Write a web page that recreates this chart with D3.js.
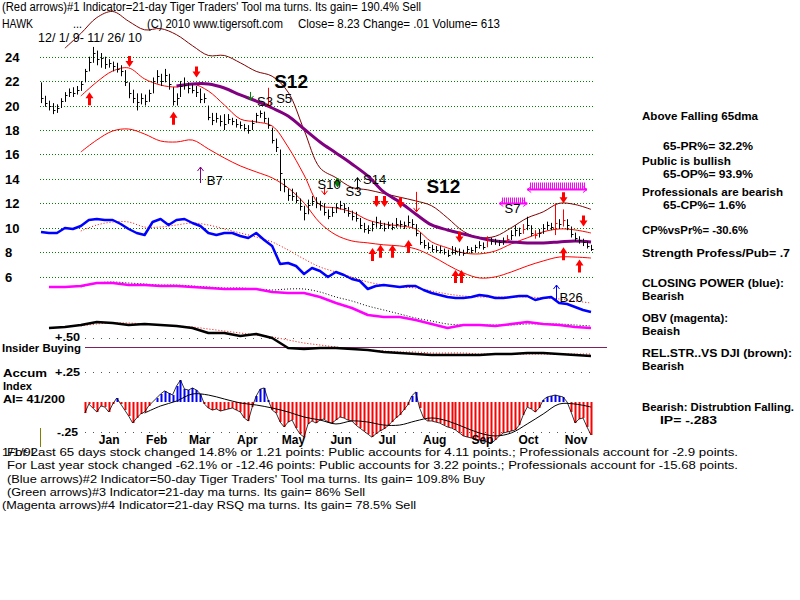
<!DOCTYPE html>
<html><head><meta charset="utf-8">
<script src="https://cdn.jsdelivr.net/npm/d3@7"></script>
<style>body{margin:0;background:#fff}svg{display:block}text{font-family:"Liberation Sans",Arial,sans-serif;fill:#000}</style>
</head><body><svg id="c" width="800" height="600"></svg>
<script>
// ---------------- DATA ----------------
const closes=[20.6,20.2,20.0,19.6,19.8,20.4,20.9,21.1,21.0,21.3, 21.8,22.8,23.6,24.3,23.8,23.9,23.4,23.5,23.2,23.0, 22.8,21.9,21.0,20.6,20.3,20.6,20.4,21.0,22.0,22.4, 22.0,22.5,21.8,20.4,20.6,21.6,21.7,21.4,21.3,21.1, 20.5,20.6,19.1,18.8,19.0,18.7,18.5,18.9,18.7,18.5, 18.4,18.2,18.0,18.6,19.2,19.4,19.0,18.4,17.2,16.6, 14.5,13.4,12.7,12.6,12.3,11.8,11.2,11.9,12.2,12.0, 11.9,11.3,11.0,11.3,11.7,11.9,11.6,11.2,11.0,10.8, 10.2,9.9,9.8,10.3,10.5,10.2,10.0,10.2,10.1,10.3, 10.3,10.2,10.5,10.3,9.6,8.8,8.6,8.4,8.3,8.2, 8.2,8.0,7.8,8.0,8.1,8.0,7.9,8.3,8.2,8.4, 8.6,8.4,9.0,8.9,8.9,8.8,8.9,9.1,9.4,9.8, 9.6,9.9,10.2,9.6,9.4,9.6,10.0,10.2,10.1,10.4, 10.3,10.6,10.2,9.5,9.2,9.0,8.8,8.5,8.23];
const highs=[21.9,20.8,20.4,20.2,20.1,20.6,21.1,21.4,21.5,21.6, 22.0,23.0,24.0,24.8,24.5,24.3,24.0,23.8,23.6,23.5, 23.3,22.9,21.9,21.3,21.0,21.0,20.9,21.3,22.3,22.9, 22.6,23.0,22.6,21.5,21.0,22.0,22.3,21.9,21.7,21.6, 21.4,21.0,20.0,19.4,19.4,19.2,19.3,19.3,19.0,18.9, 18.7,18.5,18.4,18.8,19.4,19.6,19.5,19.0,18.2,17.3, 16.4,14.0,13.2,13.2,12.9,12.4,11.8,12.3,12.6,12.5, 12.2,12.0,11.5,11.7,12.0,12.2,12.0,11.7,11.4,11.3, 10.8,10.4,10.2,10.5,10.9,10.6,10.4,10.5,10.4,10.8, 10.6,10.5,11.0,10.7,10.3,9.6,9.0,8.8,8.6,8.5, 8.5,8.3,8.2,8.5,8.4,8.3,8.2,8.5,8.4,8.6, 8.9,8.8,9.3,9.2,9.1,9.0,9.2,9.4,9.8,10.2, 10.0,10.3,10.9,10.2,9.8,9.9,10.3,10.5,10.4,12.0, 10.7,11.5,10.7,10.1,9.6,9.3,9.1,8.9,8.6];
const lows=[20.2,19.9,19.6,19.3,19.4,19.8,20.3,20.7,20.7,20.9, 21.2,21.9,22.8,23.5,23.3,23.1,23.0,23.1,22.8,22.7, 22.4,21.6,20.6,20.2,19.6,20.1,20.0,20.3,21.0,21.8, 21.6,21.9,21.3,20.0,20.0,20.7,21.3,21.0,21.0,20.7, 20.2,20.2,18.8,18.4,18.6,18.3,18.0,18.5,18.4,18.2, 18.1,17.9,17.7,18.0,18.6,19.0,18.6,18.1,16.9,16.2, 13.0,12.9,12.2,12.2,12.0,11.4,10.6,11.1,11.8,11.6, 11.4,11.0,10.7,10.9,11.2,11.5,11.2,10.9,10.6,10.5, 9.9,9.6,9.5,9.7,10.0,9.9,9.7,9.9,9.8,10.0, 10.0,9.9,10.1,10.0,9.3,8.6,8.3,8.2,8.0,8.0, 7.9,7.8,7.6,7.8,7.8,7.7,7.7,7.9,7.9,8.0, 8.3,8.2,8.4,8.6,8.6,8.5,8.6,8.8,9.0,9.3, 9.3,9.5,9.8,9.3,9.1,9.2,9.5,9.8,9.8,9.4, 9.9,10.1,9.8,9.2,8.9,8.7,8.5,8.3,8.1];
const redBars=[112,117,121,124,129,131];
const priceTicks=[24,22,20,18,16,14,12,10,8,6];
const months=["Jan","Feb","Mar","Apr","May","Jun","Jul","Aug","Sep","Oct","Nov"];

// moving averages / bands (price units), sampled every 4 bars from start index
const upperBand=[24.7,25.9,27.2,27.7,26.9,26.2,26.3,25.8,24.9,24.1,24.1,23.5,22.8,22.4,21.1,18.0,14.9,14.1,13.3,13.1,12.8,12.5,12.2,11.8,10.8,9.7,9.2,9.3,10.0,10.8,11.3,12.0,11.9,11.5];
const ma21=[20.78,21.93,22.83,23.08,22.18,21.68,21.52,21.77,21.19,20.05,18.9,18.66,18.33,16.61,14.32,11.86,11.62,11.29,10.64,10.31,10.15,9.9,8.84,8.35,7.94,7.86,8.1,8.68,9.17,9.66,9.9,9.82,9.57];
const lowerBand=[16.2,17.18,17.92,18.08,17.67,17.1,17.02,17.18,16.45,15.71,15.06,14.57,14.08,13.26,12.03,10.4,9.41,8.92,8.76,8.6,8.51,8.27,7.7,6.96,6.3,5.89,5.98,6.38,6.87,7.28,7.6,7.6,7.52];
const ma65=[21.6,21.77,21.77,21.44,20.87,20.37,19.8,19.15,18.08,17.02,16.12,15.22,14.24,12.93,12.11,11.13,10.23,9.82,9.49,9.17,8.92,8.84,8.76,8.76,8.84,8.92,8.84];

// indicators (own units)
const closingPower=[98,97,97,102,101,104,110,111,110,110, 106,101,97,95,108,111,105,110,111,107, 104,97,95,97,97,94,92,97,90,84, 66,67,64,56,62,59,53,58,55,51, 49,41,44,45,44,43,44,44,40,37, 35,33,32,32,33,35,34,32,32,33, 34,34,30,32,33,27,26,23,20,18];
const closingPowerMa=[99,105,108,108,103,103,105,107,105,101,97,93,88,80,71,63,58,53,48,45,43,42,39,36,34,33,33,33,33,32,31,29,27];
const obv=[53,53,54,57,57,55,55,54,54,53,52,51,51,51,48,47,47,43,37,32,25,23,23,20,16,12,15,15,14,16,18,16,15,13,12];
const obvMa=[53,57,58,57,56,55,55,54,53,52,52,51,50,51,51,48,43,39,34,30,26,22,19,16,15,15,15,15,16,16,16,15,14];
const relStr=[32,33,35,38,37,35,36,35,34,32,27,27,24,26,22,12,11,12,12,11,10,8,7,6,5,5,5,5,6,6,7,7,6,5,4];
const relStrMa=[34,36,37,37,36,35,34,33,31,29,27,25,23,20,17,15,13,11,10,9,8,8,7,7,7,6,6,6,6,6,6,6,6];
const accum=[-0.092,-0.017,-0.05,-0.083,-0.033,-0.042,-0.083,-0.017,0.033,-0.017, -0.067,-0.117,-0.175,-0.133,-0.1,-0.083,-0.033,0,0.033,0.067, 0.092,0.075,0.058,0.133,0.183,0.108,0.1,0.117,0.1,0.067, -0.017,-0.05,-0.067,-0.058,-0.075,-0.067,-0.058,-0.05,-0.067,-0.083, -0.133,-0.158,-0.042,0.05,0.108,0.117,0.017,-0.067,-0.092,-0.167, -0.208,-0.167,-0.15,-0.217,-0.267,-0.292,-0.183,-0.158,-0.175,-0.15, -0.142,-0.167,-0.175,-0.15,-0.125,-0.133,-0.15,-0.158,-0.192,-0.217, -0.242,-0.267,-0.292,-0.267,-0.242,-0.225,-0.2,-0.167,-0.133,-0.108, -0.067,-0.025,0.05,0.083,-0.05,-0.133,-0.158,-0.158,-0.167,-0.175, -0.192,-0.208,-0.217,-0.233,-0.258,-0.283,-0.292,-0.3,-0.317,-0.317, -0.325,-0.333,-0.342,-0.317,-0.283,-0.258,-0.25,-0.242,-0.233,-0.192, -0.108,-0.042,-0.058,-0.083,-0.05,0.017,0.042,0.05,0.058,0.05, 0.042,0,-0.083,-0.175,-0.142,-0.133,-0.208,-0.275];
const accumMa=[-0.092,-0.033,0.008,0.067,0.058,0.025,-0.008,-0.025,-0.05,-0.083,-0.125,-0.15,-0.183,-0.158,-0.167,-0.192,-0.192,-0.158,-0.133,-0.158,-0.208,-0.258,-0.283,-0.258,-0.183,-0.1,-0.017,-0.017,-0.042];

// signals: [bar index, tip price]
const redUp=[[12,21.1],[33,19.5],[83,8.35],[85,8.6],[88,8.6],[92,9.0],[104,6.55],[105.5,6.55],[131,8.4],[135,7.4]];
const redDown=[[22,23.15],[39,22.3],[84,11.7],[86,11.7],[90,11.6],[105,8.8],[131,12.0],[136,10.1]];
const thinRedDown=[[57,19.9,19],[94,11.3,20],[71,12.7,8]];
const labels=[["S12",58.5,21.45,19],["S5",59,20.2,13],["S3",54.2,19.95,13],["B7",41.6,13.5,13],["S10",69.4,13.15,13],["S3",76.4,12.6,13],["S14",80.8,13.6,13],["S12",96.7,12.85,19],["S7",116.3,11.2,13]];
const magentaClusters=[[115,122,12.0,6],[122,137,13.15,7]];

// ---------------- CHART ----------------
const svg=d3.select("#c");
const x=d3.scaleLinear().domain([0,closes.length-1]).range([41,591]);
const y=d3.scaleLinear().domain([6,24]).range([276.6,56.7]);
const cpY=d3.scaleLinear().domain([0,120]).range([330,210]);
const obvY=d3.scaleLinear().domain([0,80]).range([340,260]);
const rsY=d3.scaleLinear().domain([0,40]).range([360,320]);
const aiY=d3.scaleLinear().domain([-0.25,0.25]).range([432,372]);
const tx=d3.scaleTime().domain([new Date(2009,11,1),new Date(2010,10,26)]).range([40,593]);
const px=i=>Math.round(x(i))+0.5;

function pts(vals,start,step,ys){return vals.map((v,i)=>[x(start+i*step),ys(v)]);}
function path(p,stroke,w,dash,curve){
  svg.append("path").attr("d",d3.line().curve(curve||d3.curveLinear)(p)).attr("fill","none")
   .attr("stroke",stroke).attr("stroke-width",w).attr("stroke-dasharray",dash||null).attr("stroke-linejoin","round");
}
function txt(s,xx,yy,o){o=o||{};
  const t=svg.append("text").attr("x",xx).attr("y",yy).text(s)
   .attr("font-size",o.size||12).attr("font-weight",o.bold?"bold":"normal");
  if(o.len){t.attr("textLength",o.len).attr("lengthAdjust","spacingAndGlyphs");}
  if(o.anchor)t.attr("text-anchor",o.anchor);
  if(o.fill)t.style("fill",o.fill);
  return t;}

// grid
priceTicks.forEach(v=>{
  svg.append("line").attr("x1",40).attr("x2",593).attr("y1",Math.round(y(v))+0.5).attr("y2",Math.round(y(v))+0.5)
   .attr("stroke","#008000").attr("stroke-dasharray","1,2");
  txt(String(v),5,y(v)+5,{bold:true,size:13});
});
// indicator dotted ref lines
[[338,"+.50",341],[372,"+.25",376],[432,"-.25",436]].forEach(([yy,l,by])=>{
  svg.append("line").attr("x1",85).attr("x2",593).attr("y1",yy+0.5).attr("y2",yy+0.5)
   .attr("stroke","#555").attr("stroke-dasharray","1,7");
  txt(l,l==="-.25"?57:55,by,{bold:true,size:11,len:l==="-.25"?21:25});
});
// insider buying line
svg.append("line").attr("x1",85).attr("x2",607).attr("y1",347.5).attr("y2",347.5).attr("stroke","#802060").attr("stroke-width",1.2);

// bands
const cur=d3.curveCatmullRom;
path(pts(upperBand,6,4,y),"#800000",1,null,cur);
path(pts(lowerBand,10,4,y),"#ff0000",1,null,cur);
path(pts(ma21,10,4,y),"#ff0000",1,null,cur);
path(pts(ma65,34,4,y),"#800080",3,null,cur);

// price bars
const bars=svg.append("g");
closes.forEach((c,i)=>{
  const col=redBars.includes(i)?"#ff0000":"#000";
  bars.append("line").attr("x1",px(i)).attr("x2",px(i)).attr("y1",y(highs[i])).attr("y2",y(lows[i])).attr("stroke",col);
  bars.append("line").attr("x1",px(i)).attr("x2",px(i)+2).attr("y1",Math.round(y(c))+0.5).attr("y2",Math.round(y(c))+0.5).attr("stroke",col);
});

// indicators
path(pts(closingPowerMa,10,4,cpY),"#ff0000",1,"1,2",cur);
path(pts(closingPower,0,2,cpY),"#0000ff",2.5);
path(pts(obvMa,10,4,obvY),"#000",1,"1,2",cur);
path(pts(obv,2,4,obvY),"#ff00ff",2.5);
path(pts(relStrMa,10,4,rsY),"#ff0000",1,"1,2",cur);
path(pts(relStr,2,4,rsY),"#000",2.5);

// accumulation index
accum.forEach((v,k)=>{const i=11+k;
  svg.append("line").attr("x1",px(i)).attr("x2",px(i)).attr("y1",aiY(0)).attr("y2",aiY(v))
   .attr("stroke",v>=0?"#0000ff":"#ff0000").attr("stroke-width",2);
});
path(pts(accum,11,1,aiY),"#000",0.8);
path(pts(accumMa,26,4,aiY),"#000",1,null,cur);
svg.append("line").attr("x1",40.5).attr("x2",40.5).attr("y1",428).attr("y2",447).attr("stroke","#808000");

// arrows
function arrow(cx,ty,dir,len,col){ // dir 1 = up (tip on top), -1 = down
  const s=dir, h=6, w=4, sw=1.5;
  const d=[[cx,ty],[cx-w,ty+s*h],[cx-sw,ty+s*h],[cx-sw,ty+s*len],[cx+sw,ty+s*len],[cx+sw,ty+s*h],[cx+w,ty+s*h]];
  svg.append("path").attr("d","M"+d.map(p=>p.join(",")).join("L")+"Z").attr("fill",col);
}
function thinArrow(cx,ty,dir,len,col){
  const s=dir;
  svg.append("path").attr("d",`M${cx},${ty+s*len}L${cx},${ty}M${cx-3},${ty+s*4}L${cx},${ty}L${cx+3},${ty+s*4}`)
   .attr("fill","none").attr("stroke",col).attr("stroke-width",1);
}
redUp.forEach(([i,p])=>arrow(px(i),y(p),1,13,"#ff0000"));
redDown.forEach(([i,p])=>arrow(px(i),y(p),-1,11,"#ff0000"));
thinRedDown.forEach(([i,p,l])=>thinArrow(px(i),y(p),-1,l,"#ff0000"));
thinArrow(px(39.8),y(14.97),1,16,"#800080");
thinArrow(px(129.3),cpY(45),1,17,"#0000ff");
thinArrow(px(52.4),y(20.46),-1,8,"#008000");
arrow(px(74.2),y(13.3),-1,9,"#008000");
thinArrow(px(79.2),y(14.1),1,12,"#000");

// magenta clusters
magentaClusters.forEach(([a,b,p,h])=>{
  const yy=Math.round(y(p))+0.5, x0=x(a), x1=x(b);
  svg.append("line").attr("x1",x0).attr("x2",x1).attr("y1",yy).attr("y2",yy).attr("stroke","#ff00ff").attr("stroke-width",2);
  for(let xx=x0+3;xx<x1-2;xx+=2){svg.append("line").attr("x1",Math.round(xx)+0.5).attr("x2",Math.round(xx)+0.5).attr("y1",yy).attr("y2",yy-h).attr("stroke","#ff00ff");}
  svg.append("path").attr("d",`M${x0+4},${yy-3}L${x0},${yy}L${x0+4},${yy+3}M${x1-4},${yy-3}L${x1},${yy}L${x1-4},${yy+3}`).attr("stroke","#ff00ff").attr("fill","none");
});

// labels
labels.forEach(([s,i,p,sz])=>txt(s,x(i),y(p),{bold:sz>15,size:sz}));
txt("B26",x(130.1),cpY(28),{size:13});

// months
months.forEach((m,k)=>txt(m,tx(new Date(2010,k,15)),444,{bold:true,size:12,anchor:"middle"}));

// header
txt("(Red arrows)#1 Indicator=21-day Tiger Traders' Tool ma turns. Its gain= 190.4% Sell",2,11,{size:12,len:419});
txt("HAWK",2,28,{size:12,len:31});
txt("...",73,28,{size:12,len:9});
txt("(C) 2010 www.tigersoft.com",147,28,{size:12,len:136});
txt("Close=  8.23  Change= .01 Volume= 613",298,28,{size:12,len:202});
txt("12/ 1/ 9- 11/ 26/ 10",38,42,{size:12,len:104});

// left labels
txt("Insider Buying",2,352,{bold:true,size:11,len:79});
txt("Accum",3,377,{bold:true,size:11,len:44});
txt("Index",3,390,{bold:true,size:11,len:29});
txt("AI= 41/200",3,403,{bold:true,size:11,len:62});

// right panel
const rp=[["Above Falling 65dma",642,120,116],["65-PR%= 32.2%",663,150,90],["Public is bullish",642,165,89],["65-OP%= 93.9%",663,178,90],
["Professionals are bearish",642,196,141],["65-CP%= 1.6%",663,209,83],["CP%vsPr%= -30.6%",642,234,106],["Strength Profess/Pub= .7",642,257,148],
["CLOSING POWER (blue):",642,287,142],["Bearish",642,300,42],["OBV (magenta):",642,322,86],["Beaish",642,335,38],
["REL.STR..VS DJI (brown):",642,357,150],["Bearish",642,370,42],["Bearish: Distrubtion Falling.",642,411,152],["IP= -.283",660,424,57]];
rp.forEach(([s,xx,yy,l])=>txt(s,xx,yy,{bold:true,size:11.5,len:l}));

// bottom text
txt("1/1/92",2,456,{size:11,len:36});
txt("For Last 65 days stock changed  14.8% or  1.21 points:  Public accounts for  4.11 points.;  Professionals account for -2.9 points.",7,456,{size:11,len:731});
txt("For Last year stock changed -62.1% or -12.46 points:  Public accounts for  3.22 points.;  Professionals account for -15.68 points.",7,469,{size:11,len:731});
txt("(Blue arrows)#2 Indicator=50-day Tiger Traders' Tool ma turns. Its gain= 109.8% Buy",7,483,{size:11,len:478});
txt("(Green arrows)#3 Indicator=21-day ma turns. Its gain= 86% Sell",7,496,{size:11,len:358});
txt("(Magenta arrows)#4 Indicator=21-day RSQ ma turns. Its gain= 78.5% Sell",2,509,{size:11,len:414});
</script></body></html>
